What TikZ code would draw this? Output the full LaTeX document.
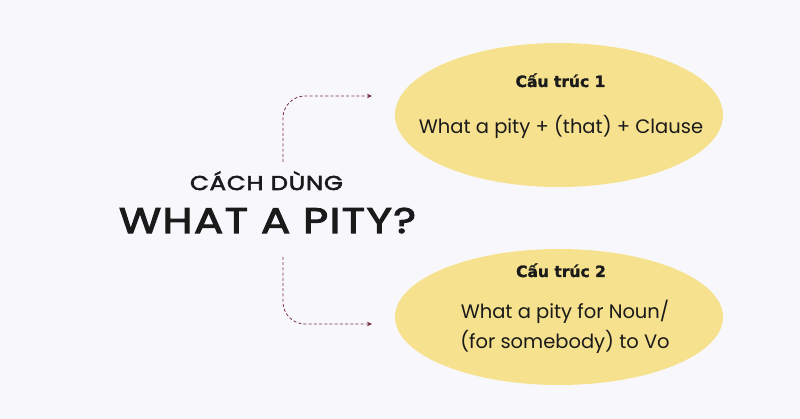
\documentclass[tikz,border=0pt]{standalone}
\usepackage{fontspec}
\setmainfont{Poppins}
\newfontfamily\viet[FakeBold=1.5]{DejaVu Sans}
\newfontfamily\titlefont[FakeStretch=1.22, FakeBold=3, LetterSpace=4]{Poppins}
\usetikzlibrary{arrows.meta}
\definecolor{bg}{HTML}{F8F8FC}
\definecolor{ell}{HTML}{F6E18E}
\definecolor{ink}{HTML}{1A1A1A}
\definecolor{dash}{HTML}{7A3040}
\tikzset{
  head/.style={font=\viet\bfseries\fontsize{15.5}{20}\selectfont, text=ink, inner sep=0pt, anchor=base},
  bodytext/.style={font=\fontsize{19.5}{30}\selectfont, text=ink, inner sep=0pt, align=center},
  link/.style={draw=dash, line width=0.8pt, dash pattern=on 3pt off 2.2pt, rounded corners=22pt, -{Stealth[length=5pt,width=4.5pt]}},
  titlesmall/.style={font=\titlefont\fontsize{20}{24}\selectfont, text=ink, inner sep=0pt, anchor=base},
  titlebig/.style={font=\titlefont\fontsize{35.5}{40}\selectfont, text=ink, inner sep=0pt, anchor=base}
}
\begin{document}
\begin{tikzpicture}[x=1pt,y=-1pt]
\fill[bg] (0,0) rectangle (800,419);
\useasboundingbox (0,0) rectangle (800,419);
% ellipses
\fill[ell] (559,115) ellipse [x radius=164, y radius=72];
\fill[ell] (559,317) ellipse [x radius=164, y radius=68];
% texts ellipse 1
\node[head] (h1) at (560.5,87) {Cấu trúc 1};
\node[bodytext] (b1) at (561,127) {What a pity + (that) + Clause};
% texts ellipse 2
\node[head] (h2) at (561,277) {Cấu trúc 2};
\node[bodytext] (b2) at (565,327) {What a pity for Noun/\\ (for somebody) to Vo};
% title
\node[titlesmall] (t1) at (266.5,190) {CÁCH DÙNG};
\node[titlebig] (t2) at (267.5,233) {WHAT A PITY?};
% connectors
\coordinate (s1) at (283,162);
\coordinate (a1) at (372,96);
\coordinate (s2) at (283,257);
\coordinate (a2) at (372,324);
\draw[link] (s1) |- (a1);
\draw[link] (s2) |- (a2);
\end{tikzpicture}
\end{document}
